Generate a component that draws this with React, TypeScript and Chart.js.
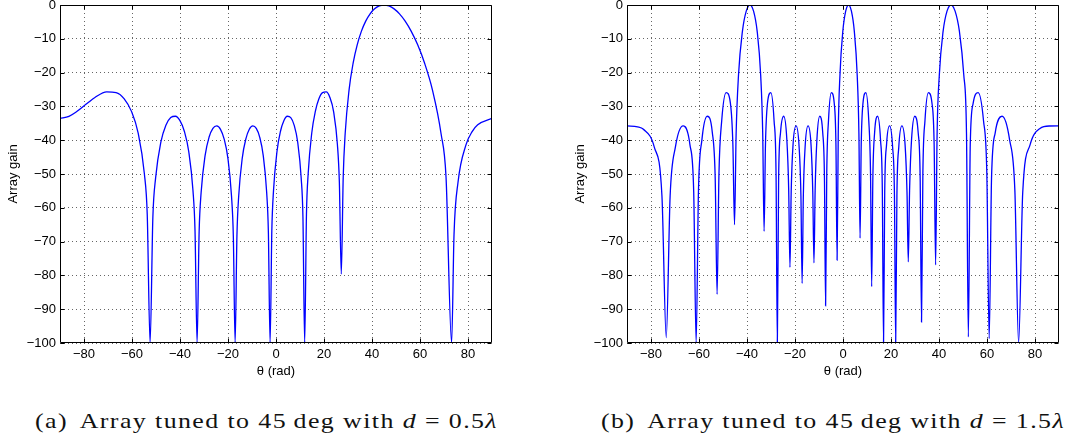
import React, { useEffect, useLayoutEffect, useRef } from 'react';
import { Chart, registerables } from 'chart.js';

Chart.register(...registerables);

// (a) d = 0.5 lambda : angle (deg) and gain (dB)
const thetaA = [
  -90, -86.28, -83.16, -78.63, -75.44, -70.54, -66.62, -63.24, -60.22, -57.45, -54.87, -53.65,
  -52.46, -51.3, -50.16, -47.98, -45.88, -43.86, -41.9, -40.01, -38.16, -36.36, -34.6, -33.74,
  -32.88, -32.03, -31.19, -29.53, -27.9, -26.29, -24.7, -23.13, -21.59, -20.05, -18.54, -17.78,
  -17.03, -16.28, -15.54, -14.06, -12.59, -11.12, -9.67, -8.22, -6.77, -5.33, -3.89, -3.18,
  -2.46, -1.74, -1.03, 0.41, 1.84, 3.27, 4.71, 6.15, 7.59, 9.04, 10.49, 11.22,
  11.95, 12.69, 13.42, 14.9, 16.39, 17.88, 19.4, 20.92, 22.46, 24.02, 25.6, 26.4,
  27.2, 28.01, 28.82, 30.47, 32.15, 33.86, 35.6, 37.38, 39.21, 41.08, 43.01, 45,
  47.06, 49.21, 51.46, 53.82, 56.31, 58.99, 61.89, 65.12, 68.78, 70.84, 73.17, 74.18,
  75.84, 79.15, 81.73, 84.05, 90,
];
const gainA = [
  -33.54, -32.94, -31.6, -29.08, -27.36, -25.72, -25.91, -27.76, -31.47, -37.86, -49.79, -61.98,
  -100, -62.66, -51.16, -40.6, -35.61, -33.31, -32.92, -34.22, -37.43, -43.35, -54.85, -66.83,
  -100, -67.11, -55.42, -44.48, -39.14, -36.51, -35.79, -36.78, -39.68, -45.3, -56.51, -68.35,
  -100, -68.35, -56.51, -45.3, -39.68, -36.78, -35.79, -36.51, -39.14, -44.48, -55.42, -67.11,
  -100, -66.83, -54.85, -43.35, -37.43, -34.22, -32.92, -33.31, -35.61, -40.6, -51.16, -62.66,
  -100, -61.98, -49.79, -37.86, -31.47, -27.76, -25.91, -25.72, -27.36, -31.6, -41.4, -52.45,
  -79.6, -50.8, -38.09, -24.95, -17.15, -11.72, -7.73, -4.77, -2.61, -1.14, -0.28, 0,
  -0.28, -1.14, -2.61, -4.77, -7.73, -11.72, -17.15, -24.95, -38.09, -50.8, -100, -67.8,
  -52.45, -41.4, -37.44, -35.42, -33.54,
];

// (b) d = 1.5 lambda
const thetaB = [
  -90, -85.6, -83.16, -78.63, -75.44, -73.65, -72.03, -69.84, -66.62, -63.77, -62.2, -61.19,
  -60.22, -58.8, -56.57, -54.46, -53.25, -52.46, -51.68, -50.54, -48.7, -46.91, -45.88, -45.2,
  -44.53, -43.53, -41.9, -40.32, -38.77, -37.26, -35.77, -34.31, -33.45, -32.88, -32.31, -31.47,
  -30.08, -28.72, -27.9, -27.36, -26.82, -26.02, -24.7, -23.39, -22.62, -22.1, -21.59, -20.82,
  -19.55, -18.28, -17.53, -17.03, -16.53, -15.79, -14.55, -13.32, -12.59, -12.1, -11.61, -10.88,
  -9.67, -8.46, -7.73, -7.25, -6.77, -6.05, -4.85, -3.65, -2.94, -2.46, -1.98, -1.26,
  -0.07, 1.12, 2.32, 3.51, 4.71, 5.91, 6.63, 7.11, 7.59, 8.32, 9.52, 10.74,
  11.47, 11.95, 12.44, 13.18, 14.4, 15.64, 16.39, 16.89, 17.38, 18.14, 19.4, 20.67,
  21.44, 21.95, 22.46, 23.24, 24.55, 25.87, 26.67, 27.2, 27.74, 28.55, 29.92, 31.31,
  32.15, 32.72, 33.28, 34.15, 35.6, 37.08, 37.98, 38.59, 39.21, 40.14, 41.72, 43.34,
  45, 46.71, 48.49, 50.32, 51.46, 52.23, 53.02, 54.22, 56.31, 58.55, 59.93, 60.91,
  61.89, 63.45, 66.28, 69.44, 71.61, 73.17, 74.89, 77.94, 82.07, 85.97, 90,
];
const gainB = [
  -35.79, -36.07, -36.78, -42.06, -56.51, -98.4, -56.51, -42.06, -35.79, -41.38, -55.42, -100,
  -54.85, -39.96, -32.92, -37.67, -51.16, -85.6, -49.79, -34.24, -25.91, -29.08, -41.4, -65,
  -38.09, -20.66, -7.73, -1.8, 0, -1.8, -7.73, -20.66, -38.09, -67, -41.4, -29.08,
  -25.91, -34.24, -49.79, -100, -51.16, -37.67, -32.92, -39.96, -54.85, -77.6, -55.42, -41.38,
  -35.79, -42.06, -56.51, -82.4, -56.51, -42.06, -35.79, -41.38, -55.42, -76.3, -54.85, -39.96,
  -32.92, -37.67, -51.16, -89, -49.79, -34.24, -25.91, -29.08, -41.4, -75.5, -38.09, -20.66,
  -7.73, -1.8, 0, -1.8, -7.73, -20.66, -38.09, -69, -41.4, -29.08, -25.91, -34.24,
  -49.79, -83.3, -51.16, -37.67, -32.92, -39.96, -54.85, -100, -55.42, -41.38, -35.79, -42.06,
  -56.51, -100, -56.51, -42.06, -35.79, -41.38, -55.42, -76, -54.85, -39.96, -32.92, -37.67,
  -51.16, -93.8, -49.79, -34.24, -25.91, -29.08, -41.4, -76.9, -38.09, -20.66, -7.73, -1.8,
  0, -1.8, -7.73, -20.66, -38.09, -98.2, -41.4, -29.08, -25.91, -34.24, -49.79, -98.7,
  -51.16, -37.67, -32.92, -39.96, -54.85, -100, -55.42, -41.38, -36.51, -35.8, -35.79,
];

const xTickValues = [-80, -60, -40, -20, 0, 20, 40, 60, 80];
const yTickValues = [0, -10, -20, -30, -40, -50, -60, -70, -80, -90, -100];
const xTitle = 'θ (rad)';
const yTitle = 'Array gain';
const captionA = { tag: '(a)', pre: 'Array tuned to 45\u2009deg with ', val: '0.5' };
const captionB = { tag: '(b)', pre: 'Array tuned to 45\u2009deg with ', val: '1.5' };

const fmt = (v: number) => (v < 0 ? '\u2212' + Math.abs(v) : String(v));

const boxPlugin = {
  id: 'matlabBox',
  afterDatasetsDraw(chart: any) {
    const { ctx, chartArea: a, scales } = chart;
    const L = Math.round(a.left) + 0.5;
    const R = Math.round(a.right) - 0.5;
    const T = Math.round(a.top) + 0.5;
    const B = Math.round(a.bottom) - 0.5;
    ctx.save();
    ctx.setLineDash([]);
    ctx.strokeStyle = '#000';
    ctx.lineWidth = 1;
    ctx.beginPath();
    ctx.rect(L, T, R - L, B - T);
    const tl = 4;
    xTickValues.forEach((v) => {
      const px = Math.round(scales.x.getPixelForValue(v)) + 0.5;
      ctx.moveTo(px, B);
      ctx.lineTo(px, B - tl);
      ctx.moveTo(px, T);
      ctx.lineTo(px, T + tl);
    });
    yTickValues.forEach((v) => {
      const py = Math.round(scales.y.getPixelForValue(v)) + 0.5;
      ctx.moveTo(L, py);
      ctx.lineTo(L + tl, py);
      ctx.moveTo(R, py);
      ctx.lineTo(R - tl, py);
    });
    ctx.stroke();
    ctx.restore();
  },
};

const tickFont = { family: '"Liberation Sans", Arial, sans-serif', size: 13 };

function Plot({ theta, gain, left }: { theta: number[]; gain: number[]; left: number }) {
  const ref = useRef<HTMLCanvasElement>(null);
  useEffect(() => {
    const chart = new Chart(ref.current as HTMLCanvasElement, {
      type: 'line',
      data: {
        datasets: [
          {
            data: theta.map((x, i) => ({ x, y: gain[i] })),
            borderColor: '#0000ff',
            borderWidth: 1.3,
            pointRadius: 0,
            cubicInterpolationMode: 'monotone',
            fill: false,
          },
        ],
      },
      options: {
        animation: false,
        responsive: false,
        devicePixelRatio: 1,
        events: [],
        layout: { autoPadding: false, padding: { top: 15, right: 10, bottom: 0, left: 0 } },
        plugins: { legend: { display: false }, tooltip: { enabled: false } },
        scales: {
          x: {
            type: 'linear',
            min: -90,
            max: 90,
            afterBuildTicks: (s: any) => {
              s.ticks = xTickValues.map((value) => ({ value }));
            },
            afterFit: (s: any) => {
              s.height = 42;
            },
            grid: { color: '#666', lineWidth: 1, drawTicks: false },
            border: { display: false, dash: [1, 3] },
            ticks: {
              autoSkip: false,
              maxRotation: 0,
              padding: 4,
              color: '#000',
              font: tickFont,
              callback: (v: any) => fmt(Number(v)),
            },
            title: { display: true, text: xTitle, color: '#000', font: tickFont, padding: { top: 0, bottom: 6 } },
          },
          y: {
            type: 'linear',
            min: -100,
            max: 0,
            afterBuildTicks: (s: any) => {
              s.ticks = yTickValues.map((value) => ({ value }));
            },
            afterFit: (s: any) => {
              s.width = 60;
            },
            grid: { color: '#666', lineWidth: 1, drawTicks: false },
            border: { display: false, dash: [1, 3] },
            ticks: {
              autoSkip: false,
              padding: 4,
              color: '#000',
              font: tickFont,
              callback: (v: any) => fmt(Number(v)),
            },
            title: { display: true, text: yTitle, color: '#000', font: tickFont, padding: { top: 5.5, bottom: 0 } },
          },
        },
      } as any,
      plugins: [boxPlugin],
    });
    return () => chart.destroy();
  }, []);
  return (
    <canvas
      ref={ref}
      width={502}
      height={395}
      style={{ position: 'absolute', left, top: -10, width: 502, height: 395 }}
    />
  );
}

function Caption({ left, width, c }: { left: number; width: number; c: typeof captionA }) {
  const ref = useRef<HTMLDivElement>(null);
  useLayoutEffect(() => {
    const el = ref.current as HTMLDivElement;
    el.style.transform = 'none';
    const w = el.getBoundingClientRect().width;
    if (w > 0) el.style.transform = `scaleX(${width / w})`;
  }, []);
  return (
    <div
      ref={ref}
      style={{
        position: 'absolute',
        left,
        top: 410,
        display: 'inline-block',
        whiteSpace: 'nowrap',
        transformOrigin: '0 0',
        fontFamily: '"Liberation Serif", "Times New Roman", serif',
        fontWeight: 400,
        fontSize: 22,
        letterSpacing: '1.2px',
        lineHeight: '22px',
        color: '#111',
      }}
    >
      <span style={{ marginRight: 10 }}>{c.tag}</span>
      {c.pre}
      <i>d</i>
      {' = '}
      {c.val}
      <i>λ</i>
    </div>
  );
}

export default function App() {
  return (
    <div
      style={{
        position: 'absolute',
        left: 0,
        top: 0,
        width: 1068,
        height: 443,
        background: '#fff',
        overflow: 'hidden',
      }}
    >
      <Plot theta={thetaA} gain={gainA} left={0} />
      <Plot theta={thetaB} gain={gainB} left={567} />
      <Caption left={35} width={463} c={captionA} />
      <Caption left={601} width={464} c={captionB} />
    </div>
  );
}
